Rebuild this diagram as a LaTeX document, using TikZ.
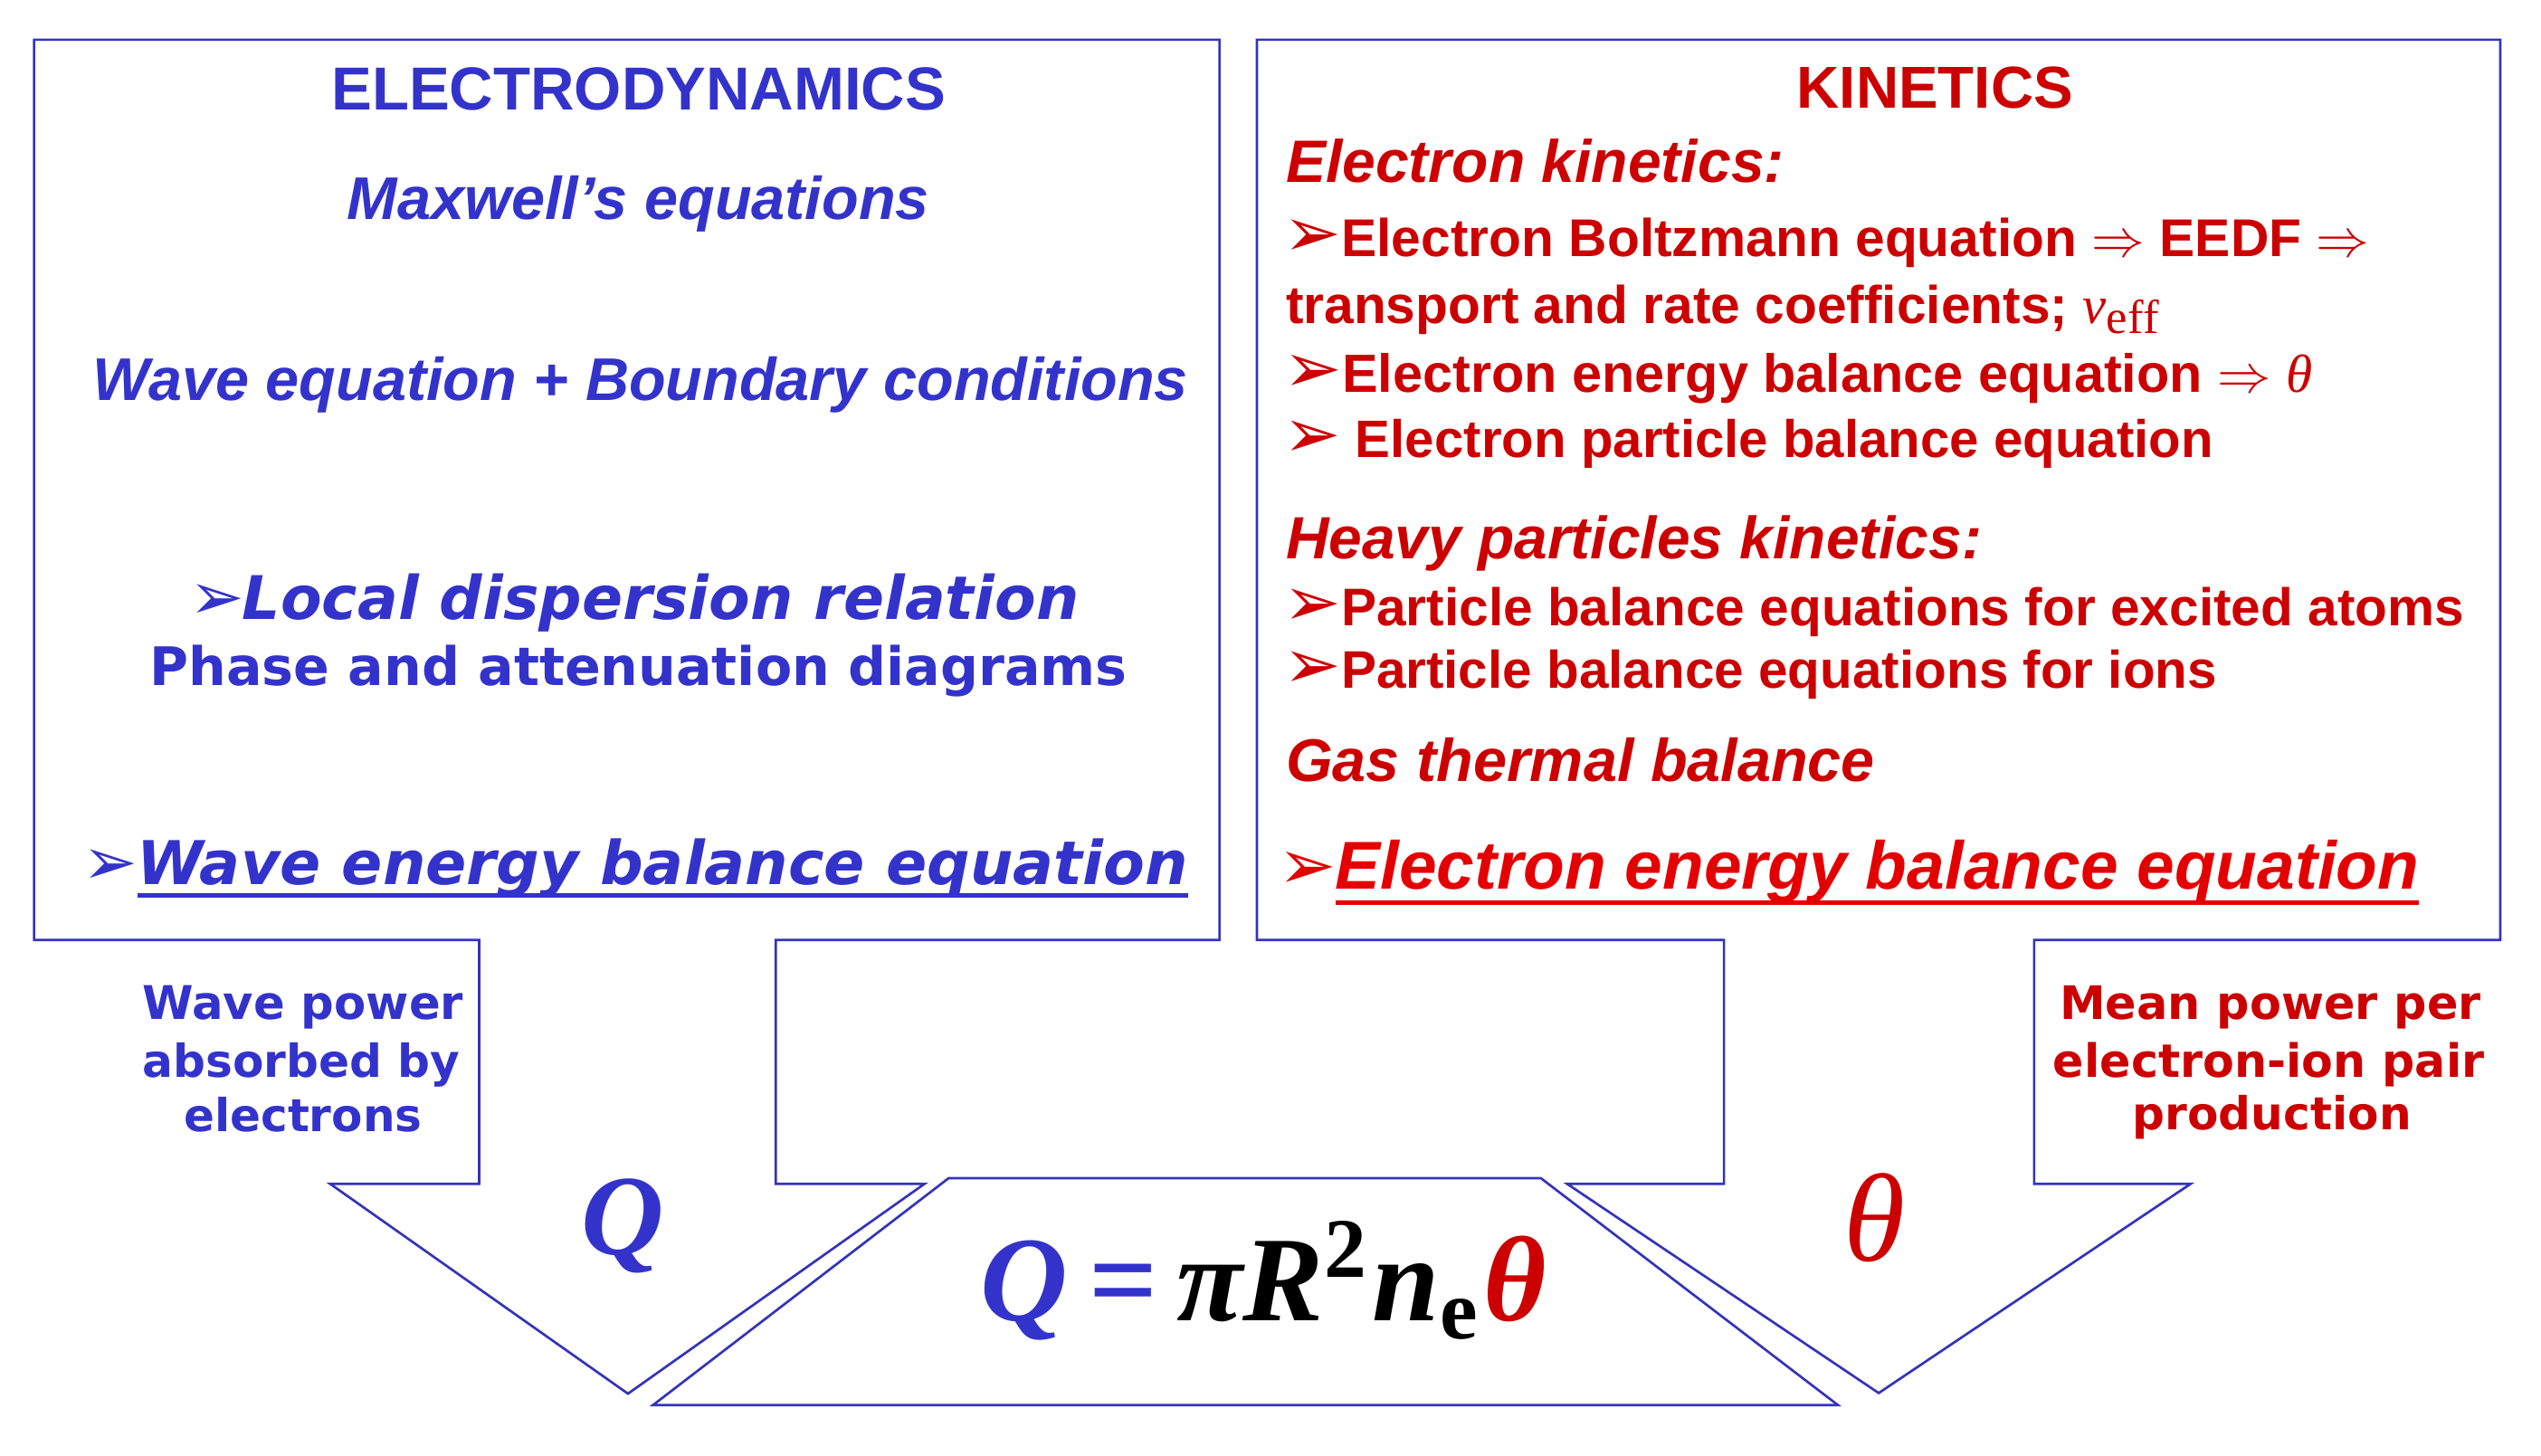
\documentclass[tikz,border=0pt]{standalone}
\usepackage{fontspec}
\usepackage{graphicx}
\newfontfamily\ar{Liberation Sans}
\newfontfamily\vd{DejaVu Sans}
\newfontfamily\tm{Liberation Serif}
\definecolor{tblue}{RGB}{51,51,204}
\definecolor{lblue}{RGB}{52,52,185}
\definecolor{tred}{RGB}{204,0,0}
\definecolor{bred}{RGB}{228,0,0}
\newcommand\fit[2]{\resizebox{#1pt}{!}{#2}}
\newcommand\bul{{\vd ➢}}
\newcommand\bulr{\scalebox{1.3}{\vd ➢}}
\tikzset{
  outline/.style={draw=lblue, line width=1.5pt, line join=miter},
  txt/.style={inner sep=0pt, outer sep=0pt},
  lt/.style={txt, anchor=base west},
  ct/.style={txt, anchor=base},
  bl/.style={text=tblue},
  rd/.style={text=tred},
}
\begin{document}
\begin{tikzpicture}[x=1pt,y=-1pt]
\fill[white] (0,0) rectangle (1568,898);
\useasboundingbox (0,0) rectangle (1568,898);
% left callout (electrodynamics)
\draw[outline] (21,24.5) -- (752.5,24.5) -- (752.5,580) -- (478.7,580) -- (478.7,730.5) -- (570.5,730.5) -- (387.5,860) -- (203.7,730.5) -- (295.7,730.5) -- (295.7,580) -- (21,580) -- cycle;
% right callout (kinetics)
\draw[outline] (775.6,24.5) -- (1542.8,24.5) -- (1542.8,580) -- (1255.2,580) -- (1255.2,730.5) -- (1351.8,730.5) -- (1159.3,859.6) -- (967,730.5) -- (1063.8,730.5) -- (1063.8,580) -- (775.6,580) -- cycle;
% trapezoid
\draw[outline] (585.4,727) -- (950.8,727) -- (1134.1,867) -- (403,867) -- cycle;

% ---- left box texts
\node[lt,bl] (ed) at (204.5,67.8) {\fit{379}{\ar\bfseries ELECTRODYNAMICS}};
\node[lt,bl] (mx) at (214.4,135.6) {\fit{359}{\ar\bfseries\itshape Maxwell’s equations}};
\node[lt,bl] (we) at (57.3,247.3) {\fit{675.7}{\ar\bfseries\itshape Wave equation + Boundary conditions}};
\node[lt,bl] (ldb) at (117,382) {\fit{34}{\bul}};
\node[lt,bl] (ld) at (149.6,382) {\fit{516}{\vd\bfseries\itshape Local dispersion relation}};
\node[lt,bl] (pa) at (92.3,422.9) {\fit{603.2}{\vd\bfseries Phase and attenuation diagrams}};
\node[lt,bl] (wbb) at (51,546) {\fit{34}{\bul}};
\node[lt,bl] (wb) at (84.8,546) {\fit{648.2}{\vd\bfseries\itshape Wave energy balance equation}};
\draw[tblue, line width=2.6pt] ([yshift=-6.5pt]wb.base west) -- ([yshift=-6.5pt]wb.base east);

% ---- right box texts
\node[lt,rd] (ki) at (1108.8,66.8) {\fit{170.4}{\ar\bfseries KINETICS}};
\node[lt,rd] (ek) at (793.5,112.7) {\fit{307.5}{\ar\bfseries\itshape Electron kinetics:}};
\node[lt,rd] (r1) at (792,158.5) {\fit{670}{\bulr\ar\bfseries Electron Boltzmann equation $\Rightarrow$ EEDF $\Rightarrow$}};
\node[lt,rd] (r2) at (793.5,199.5) {\fit{538.5}{\ar\bfseries transport and rate coefficients; {\tm\mdseries\itshape ν}\raisebox{-0.35ex}{\tm\mdseries\small eff}}};
\node[lt,rd] (r3) at (792,242) {\fit{635}{\bulr\ar\bfseries Electron energy balance equation $\Rightarrow$ {\tm\mdseries\itshape θ}}};
\node[lt,rd] (r4) at (792,282) {\fit{573.7}{\bulr\ar\bfseries\ Electron particle balance equation}};
\node[lt,rd] (hp) at (793.5,345) {\fit{429.5}{\ar\bfseries\itshape Heavy particles kinetics:}};
\node[lt,rd] (r5) at (792,385.9) {\fit{728.6}{\bulr\ar\bfseries Particle balance equations for excited atoms}};
\node[lt,rd] (r6) at (792,424.7) {\fit{576}{\bulr\ar\bfseries Particle balance equations for ions}};
\node[lt,rd] (gt) at (793.5,482) {\fit{363.5}{\ar\bfseries\itshape Gas thermal balance}};
\node[lt,text=bred] (ebb) at (789,548.8) {\fit{36}{\bul}};
\node[lt,text=bred] (eb) at (824,548.8) {\fit{668.6}{\ar\bfseries\itshape Electron energy balance equation}};
\draw[bred, line width=2.8pt] ([yshift=-8.2pt]eb.base west) -- ([yshift=-8.2pt]eb.base east);

% ---- bottom labels
\node[ct,bl] (wp1) at (187,628.8) {\fit{198}{\vd\bfseries Wave power}};
\node[ct,bl] (wp2) at (186,664.5) {\fit{196}{\vd\bfseries absorbed by}};
\node[ct,bl] (wp3) at (187,698) {\fit{147}{\vd\bfseries electrons}};
\node[ct,rd] (mp1) at (1401,628.8) {\fit{260}{\vd\bfseries Mean power per}};
\node[ct,rd] (mp2) at (1400,664.5) {\fit{266}{\vd\bfseries electron-ion pair}};
\node[ct,rd] (mp3) at (1402,697) {\fit{172}{\vd\bfseries production}};

\node[lt,bl] (qq) at (358.5,774) {\fit{51}{\tm\bfseries\itshape Q}};
\node[lt,rd] (th) at (1138,778) {\fit{38}{\tm\itshape θ}};
\node[lt] (fm) at (605,815) {\fit{349}{\tm\bfseries\itshape {\color{tblue}Q\,=\,}πR\textsuperscript{\upshape 2}n\textsubscript{\upshape e}{\color{tred}θ}}};
\end{tikzpicture}
\end{document}
